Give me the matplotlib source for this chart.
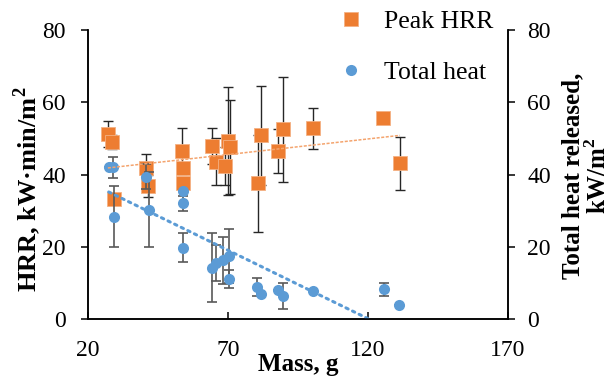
import numpy as np
import matplotlib.pyplot as plt

plt.rcParams['font.family'] = ['Liberation Serif', 'DejaVu Serif']
plt.rcParams['mathtext.fontset'] = 'custom'
plt.rcParams['mathtext.rm'] = 'Liberation Serif'
plt.rcParams['mathtext.bf'] = 'Liberation Serif:bold'

# Peak heat release rate vs. sample mass
hrr_mass = [27.1, 28.6, 29.2, 40.6, 41.4, 53.7, 53.9, 54.0, 64.3, 65.8,
            68.9, 70.0, 70.8, 80.6, 81.8, 88.0, 89.5, 100.5, 125.5, 131.4]
hrr_peak = [51.2, 49.0, 33.1, 41.7, 36.8, 46.5, 41.7, 37.7, 48.0, 43.5,
            42.4, 49.3, 47.6, 37.6, 50.9, 46.5, 52.5, 52.8, 55.7, 43.1]
hrr_err = [3.6, 2.0, 0.0, 4.0, 3.0, 6.3, 0.0, 0.0, 5.0, 6.5,
           5.3, 15.0, 13.0, 13.4, 13.7, 6.0, 14.6, 5.6, 0.0, 7.3]

# Total heat released vs. sample mass
thr_mass = [27.4, 28.9, 29.2, 40.8, 41.7, 53.9, 53.9, 53.9, 64.2, 65.6,
            68.3, 70.5, 70.5, 80.5, 81.8, 88.0, 89.8, 100.5, 125.9, 131.2]
thr_total = [42.0, 42.0, 28.3, 39.4, 30.2, 35.4, 32.0, 19.7, 14.2, 15.4,
             16.3, 17.4, 11.1, 8.9, 6.8, 8.0, 6.4, 7.8, 8.3, 3.9]
thr_err = [0.0, 2.9, 8.5, 3.5, 10.4, 0.0, 2.0, 4.0, 9.5, 5.0,
           6.5, 7.5, 2.5, 2.5, 0.0, 0.0, 3.5, 0.0, 1.8, 0.0]

orange = '#ED7D31'
blue = '#5B9BD5'

fig = plt.figure(figsize=(6.12, 3.78), dpi=100)
ax = fig.add_axes([0.1438, 0.156, 0.6862, 0.7646])
ax2 = ax.twinx()

ax.errorbar(hrr_mass, hrr_peak, yerr=hrr_err, fmt='none', ecolor='#262626',
            elinewidth=1.0, capsize=3.5, capthick=1.0, zorder=2)
ax.plot(hrr_mass, hrr_peak, 's', color=orange, markersize=9.5,
        markeredgecolor='#F4B183', markeredgewidth=0.6, zorder=3, label='Peak HRR')

ax.errorbar(thr_mass, thr_total, yerr=thr_err, fmt='none', ecolor='#595959',
            elinewidth=1.2, capsize=3.5, capthick=1.2, zorder=4)
ax.plot(thr_mass, thr_total, 'o', color=blue, markersize=8,
        markeredgewidth=0, zorder=5, label='Total heat')

# linear trendlines
xs = np.array([min(hrr_mass), max(hrr_mass)])
k, b = np.polyfit(hrr_mass, hrr_peak, 1)
ax.plot(xs, k * xs + b, color='#F4A46E', lw=1.1, ls=(0, (2, 1)), zorder=6)
xs = np.array([min(thr_mass), max(thr_mass)])
k, b = np.polyfit(thr_mass, thr_total, 1)
ax.plot(xs, k * xs + b, color=blue, lw=2.2, ls=(0, (0.8, 1.6)),
        dash_capstyle='round', zorder=6)

for a in (ax, ax2):
    a.set_ylim(0, 80)
    a.set_yticks([0, 20, 40, 60, 80])
    a.spines['top'].set_visible(False)
    for s in a.spines.values():
        s.set_linewidth(1.1)
ax.set_xlim(20, 170)
ax.set_xticks([20, 70, 120, 170])

ax.tick_params(axis='x', direction='in', length=5, width=1.1, pad=15, labelsize=17)
ax.tick_params(axis='y', direction='out', length=5, width=1.1, pad=11, labelsize=17)
ax2.tick_params(axis='y', direction='out', length=5, width=1.1, pad=9, labelsize=17)

ax.set_xlabel('Mass, g', fontsize=18, fontweight='bold', labelpad=-6)
ax.set_ylabel(r'HRR, kW·min/m$^\mathbf{2}$', fontsize=19, fontweight='bold')
ax.yaxis.set_label_coords(-0.107, 0.45)
ax2.set_ylabel('Total heat released,\n' + r'kW/m$^\mathbf{2}$', fontsize=18,
               fontweight='bold', linespacing=1.05)
ax2.yaxis.set_label_coords(1.128, 0.497)

ax.legend(loc='center left', bbox_to_anchor=(0.535, 0.875), bbox_transform=fig.transFigure,
          frameon=False, fontsize=18.5, handlelength=0.8, handletextpad=0.9,
          labelspacing=1.1, borderpad=0)

fig.savefig('out.png', dpi=100)
